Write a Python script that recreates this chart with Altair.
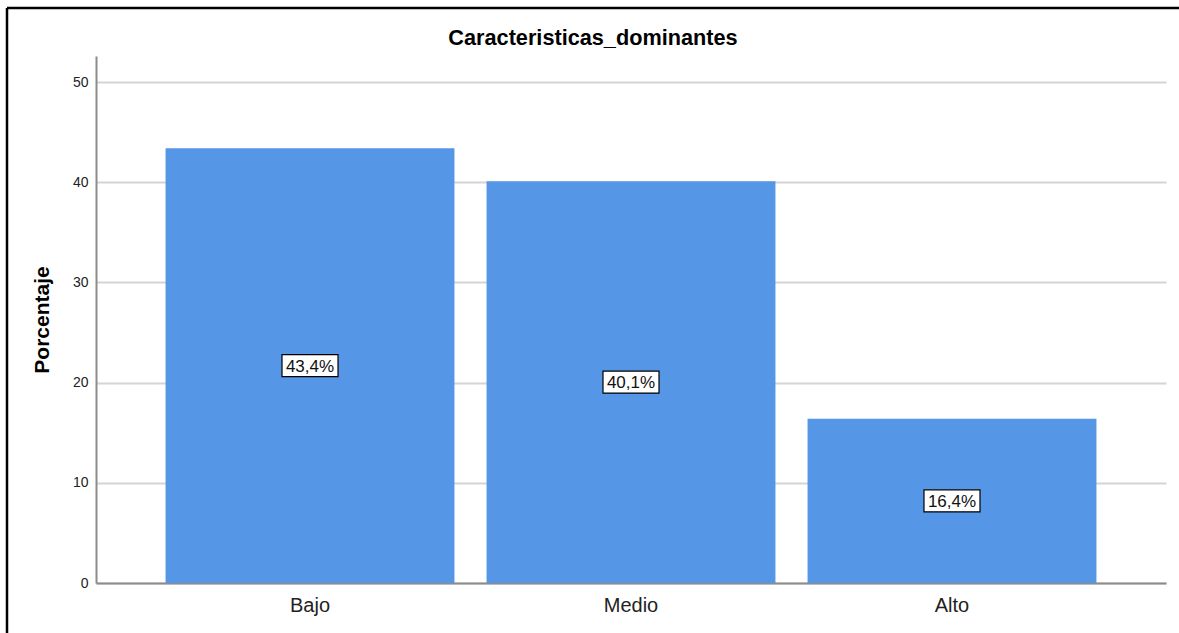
import altair as alt
import pandas as pd

# Category labels and percentages
categorias = ["Bajo", "Medio", "Alto"]
porcentajes = [43.4, 40.1, 16.4]
etiquetas = ["43,4%", "40,1%", "16,4%"]

df = pd.DataFrame({
    "categoria": categorias,
    "porcentaje": porcentajes,
    "etiqueta": etiquetas,
})
df["mitad"] = df["porcentaje"] / 2

FONT = "Liberation Sans"

x_enc = alt.X(
    "categoria:N",
    sort=categorias,
    scale=alt.Scale(paddingInner=0.1, paddingOuter=0.2167),
    axis=alt.Axis(
        title=None, labelAngle=0, ticks=False, tickSize=0, grid=False,
        labelFontSize=20, labelPadding=12, labelColor="#222222",
        domainColor="#8c8c8c", domainWidth=2,
    ),
)

y_scale = alt.Scale(domain=[0, 52.6], nice=False, zero=True)

bars = alt.Chart(df).mark_bar(color="#5596E6").encode(
    x=x_enc,
    y=alt.Y(
        "porcentaje:Q",
        scale=y_scale,
        axis=alt.Axis(
            title="Porcentaje", values=[0, 10, 20, 30, 40, 50],
            ticks=False, tickSize=0, labelFontSize=14, labelPadding=8,
            labelColor="#222222", domainColor="#8c8c8c", domainWidth=2,
            gridColor="#d4d4d4", gridWidth=2,
            titleFontSize=21, titleFontWeight="bold", titleColor="#000000",
            titleAngle=-90, titleX=-48, titleY=263.5,
            titleBaseline="alphabetic", titleAlign="center",
        ),
    ),
)

# White label boxes centred at half the bar height
box_path = "M-1,-0.393H1V0.393H-1Z"
boxes = alt.Chart(df).mark_point(
    shape=box_path, size=3136, filled=True, fill="white",
    stroke="black", strokeWidth=1.2, opacity=1,
).encode(
    x=alt.X("categoria:N", sort=categorias),
    y=alt.Y("mitad:Q", scale=y_scale),
)

texts = alt.Chart(df).mark_text(
    fontSize=17, font=FONT, color="#111111", baseline="middle", align="center", dy=1,
).encode(
    x=alt.X("categoria:N", sort=categorias),
    y=alt.Y("mitad:Q", scale=y_scale),
    text="etiqueta:N",
)

# Outer frame lines (left and top)
frame_df = pd.DataFrame({"k": [0]})
frame_left = alt.Chart(frame_df).mark_rule(color="black", strokeWidth=2.5).encode(
    x=alt.value(-89), y=alt.value(-48), y2=alt.value(640),
)
frame_top = alt.Chart(frame_df).mark_rule(color="black", strokeWidth=2.5).encode(
    y=alt.value(-48), x=alt.value(-89), x2=alt.value(1100),
)

chart = alt.layer(bars, boxes, texts, frame_left, frame_top).properties(
    width=1070,
    height=527,
    title=alt.TitleParams(
        "Caracteristicas_dominantes", fontSize=21.7, fontWeight="bold",
        font=FONT, color="#000000", anchor="middle", frame="group",
        dx=-38, dy=70, offset=10, baseline="alphabetic",
    ),
    autosize=alt.AutoSizeParams(type="none"),
    padding={"left": 96, "top": 56, "right": 13, "bottom": 50},
).configure(
    font=FONT,
    background="white",
).configure_view(
    stroke=None,
).configure_axis(
    labelFont=FONT, titleFont=FONT,
)

chart.save("out.html", embed_options={"renderer": "svg", "actions": False})
